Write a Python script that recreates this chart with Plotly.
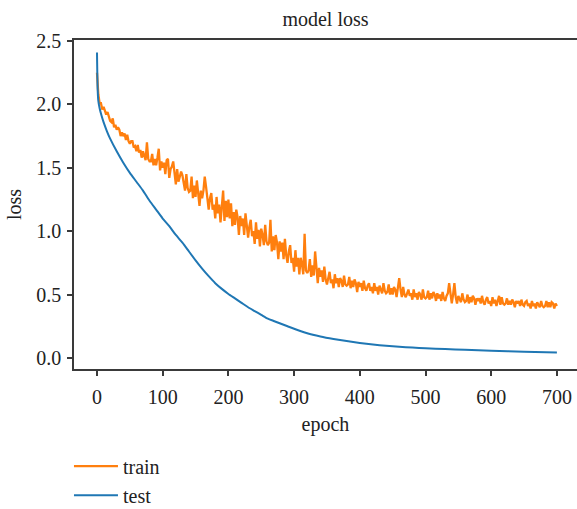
import plotly.graph_objects as go

# ---- data ----
# train loss: epochs 0, 1, then every 2 epochs from 2 to 700
train_epoch = [0, 1] + list(range(2, 701, 2))
train_loss = [
    2.25, 2.12,
    2.08, 2.01, 2.01, 1.96, 1.98, 1.95, 1.92, 1.94, 1.90, 1.87,   # 2..20
    1.86, 1.89, 1.82, 1.84, 1.80, 1.82, 1.80, 1.75, 1.78, 1.75,   # 22..40
    1.77, 1.72, 1.76, 1.71, 1.69, 1.71, 1.71, 1.66, 1.67, 1.63,   # 42..60
    1.68, 1.62, 1.64, 1.58, 1.63, 1.60, 1.56, 1.70, 1.57, 1.55,   # 62..80
    1.55, 1.61, 1.52, 1.57, 1.52, 1.58, 1.65, 1.48, 1.55, 1.50,   # 82..100
    1.54, 1.45, 1.56, 1.57, 1.42, 1.49, 1.51, 1.55, 1.45, 1.37,   # 102..120
    1.49, 1.39, 1.43, 1.47, 1.44, 1.39, 1.32, 1.45, 1.34, 1.31,   # 122..140
    1.32, 1.43, 1.26, 1.36, 1.27, 1.40, 1.32, 1.20, 1.32, 1.26,   # 142..160
    1.32, 1.43, 1.35, 1.23, 1.17, 1.26, 1.30, 1.17, 1.21, 1.10,   # 162..180
    1.27, 1.14, 1.21, 1.07, 1.22, 1.32, 1.08, 1.24, 1.11, 1.25,   # 182..200
    1.10, 1.22, 1.04, 1.15, 1.05, 1.17, 1.11, 0.97, 1.12, 1.04,   # 202..220
    1.10, 0.97, 1.14, 1.01, 0.95, 1.04, 1.09, 0.96, 1.00, 0.90,   # 222..240
    1.07, 0.94, 1.01, 0.88, 1.02, 0.97, 0.89, 1.05, 0.92, 0.89,   # 242..260
    0.91, 1.09, 0.84, 0.96, 0.85, 0.97, 0.91, 0.78, 0.92, 0.84,   # 262..280
    0.91, 0.78, 0.94, 0.81, 0.75, 0.84, 0.89, 0.75, 0.79, 0.68,   # 282..300
    0.85, 0.72, 0.79, 0.66, 0.79, 0.74, 0.66, 0.98, 0.69, 0.67,   # 302..320
    0.69, 0.78, 0.64, 0.73, 0.65, 0.84, 0.70, 0.59, 0.71, 0.64,   # 322..340
    0.69, 0.60, 0.72, 0.62, 0.58, 0.65, 0.68, 0.59, 0.62, 0.55,   # 342..360
    0.66, 0.59, 0.63, 0.56, 0.63, 0.61, 0.56, 0.65, 0.58, 0.57,   # 362..380
    0.58, 0.64, 0.55, 0.61, 0.56, 0.62, 0.59, 0.52, 0.60, 0.56,   # 382..400
    0.59, 0.53, 0.61, 0.55, 0.53, 0.57, 0.59, 0.53, 0.56, 0.51,   # 402..420
    0.59, 0.53, 0.56, 0.50, 0.57, 0.54, 0.51, 0.59, 0.53, 0.51,   # 422..440
    0.52, 0.58, 0.50, 0.55, 0.50, 0.56, 0.54, 0.48, 0.55, 0.63,   # 442..460
    0.54, 0.48, 0.56, 0.50, 0.48, 0.52, 0.54, 0.49, 0.51, 0.46,   # 462..480
    0.54, 0.48, 0.51, 0.46, 0.52, 0.50, 0.46, 0.54, 0.48, 0.47,   # 482..500
    0.48, 0.53, 0.46, 0.51, 0.47, 0.52, 0.50, 0.45, 0.51, 0.47,   # 502..520
    0.50, 0.45, 0.52, 0.47, 0.45, 0.49, 0.51, 0.59, 0.48, 0.43,   # 522..540
    0.50, 0.59, 0.48, 0.43, 0.49, 0.47, 0.44, 0.51, 0.46, 0.44,   # 542..560
    0.45, 0.50, 0.43, 0.48, 0.44, 0.49, 0.47, 0.42, 0.47, 0.45,   # 562..580
    0.47, 0.43, 0.49, 0.44, 0.42, 0.46, 0.48, 0.43, 0.45, 0.41,   # 582..600
    0.48, 0.43, 0.46, 0.41, 0.46, 0.49, 0.42, 0.48, 0.43, 0.42,   # 602..620
    0.43, 0.47, 0.42, 0.45, 0.42, 0.46, 0.44, 0.40, 0.45, 0.43,   # 622..640
    0.45, 0.41, 0.46, 0.42, 0.41, 0.44, 0.45, 0.41, 0.43, 0.39,   # 642..660
    0.45, 0.41, 0.43, 0.39, 0.44, 0.42, 0.40, 0.45, 0.41, 0.40,   # 662..680
    0.41, 0.45, 0.40, 0.44, 0.40, 0.44, 0.43, 0.39, 0.43, 0.41,   # 682..700
]

test_epoch = [0, 1, 2, 4, 7, 10, 15, 20,
              30, 40, 50, 60, 70, 80, 90, 100, 110, 120, 130, 140, 150,
              160, 170, 180, 190, 200, 210, 220, 230, 240, 250, 260, 270,
              280, 290, 300,
              320, 340, 360, 380, 400, 420, 440, 460, 480, 500,
              530, 560, 600, 650, 700]
test_loss = [2.41, 2.12, 2.03, 1.97, 1.91, 1.86, 1.79, 1.73,
             1.63, 1.54, 1.46, 1.39, 1.32, 1.24, 1.17, 1.10, 1.04, 0.97, 0.91, 0.84, 0.77,
             0.705, 0.645, 0.59, 0.545, 0.505, 0.47, 0.435, 0.40, 0.37, 0.34, 0.31, 0.29,
             0.27, 0.25, 0.23,
             0.195, 0.17, 0.15, 0.133, 0.118, 0.106, 0.096, 0.088, 0.082, 0.077,
             0.07, 0.064, 0.057, 0.049, 0.043]

x_ticks = [0, 100, 200, 300, 400, 500, 600, 700]
y_ticks = [0.0, 0.5, 1.0, 1.5, 2.0, 2.5]
y_tick_labels = ["0.0", "0.5", "1.0", "1.5", "2.0", "2.5"]

ORANGE = "#ff7f0e"
BLUE = "#1f77b4"
AXIS = "#3a3a3a"
TEXT = "#222222"
FONT = "Liberation Serif"
F = dict(family=FONT, size=20, color=TEXT)

fig = go.Figure()
fig.add_trace(go.Scatter(x=train_epoch, y=train_loss, mode="lines", name="train",
                         line=dict(color=ORANGE, width=2.3)))
fig.add_trace(go.Scatter(x=test_epoch, y=test_loss, mode="lines", name="test",
                         line=dict(color=BLUE, width=2, shape="spline", smoothing=0.6)))

fig.update_layout(
    width=577, height=509,
    margin=dict(l=74, r=0, t=40, b=140, autoexpand=False),
    paper_bgcolor="white", plot_bgcolor="white",
    font=F,
    title=dict(text="model loss", x=0.5, xref="paper", xanchor="center",
               y=1 - 19 / 509, yref="container", yanchor="middle", font=F),
    showlegend=True,
    legend=dict(x=-0.01, y=-0.236, xanchor="left", yanchor="top",
                bgcolor="rgba(0,0,0,0)", font=F, itemwidth=44, tracegroupgap=0),
)
fig.update_xaxes(range=[-35, 730.6], tickvals=x_ticks, showline=True, linecolor=AXIS,
                 linewidth=1.5, mirror=True, ticks="outside", ticklen=5, tickwidth=1.5,
                 tickcolor=AXIS, showgrid=False, zeroline=False, automargin=False,
                 tickfont=F, ticklabelstandoff=4,
                 title=dict(text="epoch", standoff=10, font=F))
fig.update_yaxes(range=[-0.087, 2.508], tickvals=y_ticks, ticktext=y_tick_labels,
                 showline=True, linecolor=AXIS, linewidth=1.5, ticks="outside",
                 ticklen=5, tickwidth=1.5, tickcolor=AXIS, showgrid=False,
                 zeroline=False, automargin=False, tickfont=F, ticklabelstandoff=2,
                 title=dict(text="loss", standoff=9, font=F))

fig.write_html("out.html")
